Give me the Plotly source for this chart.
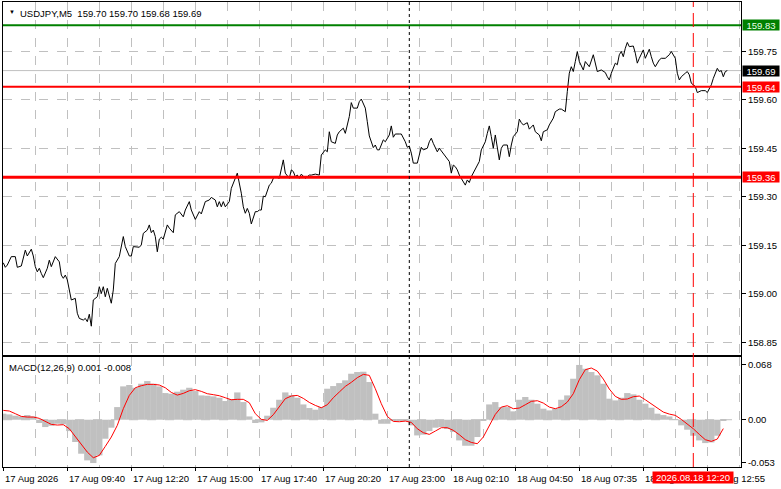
import plotly.graph_objects as go

# USDJPY M5 close prices, sampled by bar index (2 px per bar on the chart)
price_bar = [0, 1, 2, 4, 6, 7, 9, 11, 12, 14, 15, 16, 17, 18, 19, 20, 22, 23, 24, 26,
             28, 29, 30, 31, 32, 33, 34, 36, 37, 38, 40, 41, 42, 43, 44, 45, 47, 48, 49, 50,
             51, 52, 54, 55, 56, 58, 59, 60, 61, 63, 64, 65, 68, 69, 70, 72, 73, 74, 75, 76,
             77, 78, 79, 80, 82, 83, 85, 86, 88, 89, 90, 91, 93, 94, 96, 98, 99, 101, 103, 104,
             106, 107, 108, 109, 110, 111, 113, 114, 116, 117, 119, 120, 121, 122, 123, 124, 126, 127, 128, 129,
             130, 131, 133, 134, 135, 136, 138, 139, 140, 141, 143, 144, 145, 146, 147, 148, 149, 151, 152, 153,
             154, 156, 158, 159, 161, 162, 163, 164, 166, 167, 168, 170, 171, 173, 174, 175, 177, 178, 179, 181,
             182, 183, 185, 186, 187, 188, 190, 191, 193, 194, 195, 196, 198, 199, 201, 202, 203, 204, 205, 207,
             208, 209, 210, 212, 213, 214, 215, 217, 218, 220, 221, 223, 224, 225, 226, 227, 228, 230, 231, 232,
             233, 234, 236, 238, 239, 241, 242, 243, 244, 245, 246, 248, 249, 250, 252, 253, 254, 255, 257, 258,
             259, 260, 262, 263, 265, 266, 268, 269, 270, 272, 273, 275, 276, 278, 279, 281, 282, 283, 284, 285,
             286, 287, 288, 290, 291, 293, 295, 296, 297, 299, 301, 302, 303, 304, 306, 307, 308, 309, 310, 311,
             312, 313, 315, 316, 317, 318, 319, 320, 321, 323, 324, 325, 326, 328, 329, 331, 333, 334, 336, 337,
             338, 339, 341, 342, 343, 344, 346, 347, 349, 351, 352, 354, 355, 356, 357, 358, 359, 360, 361, 362]
price_close = [159.096, 159.082, 159.089, 159.115, 159.115, 159.082, 159.086, 159.135, 159.117, 159.138,
               159.117, 159.084, 159.068, 159.079, 159.063, 159.050, 159.079, 159.104, 159.084, 159.115,
               159.099, 159.058, 159.048, 159.058, 159.043, 159.006, 158.981, 158.986, 158.940, 158.924,
               158.919, 158.924, 158.914, 158.937, 158.900, 158.981, 158.991, 159.022, 159.001, 159.022,
               158.991, 159.017, 158.971, 159.012, 159.094, 159.115, 159.146, 159.177, 159.146, 159.117,
               159.117, 159.146, 159.144, 159.151, 159.187, 159.197, 159.213, 159.189, 159.197, 159.177,
               159.130, 159.169, 159.175, 159.169, 159.213, 159.203, 159.189, 159.244, 159.254, 159.247,
               159.238, 159.259, 159.285, 159.259, 159.230, 159.254, 159.247, 159.285, 159.290, 159.298,
               159.290, 159.269, 159.285, 159.269, 159.285, 159.269, 159.285, 159.326, 159.362, 159.373,
               159.311, 159.269, 159.249, 159.264, 159.249, 159.216, 159.254, 159.254, 159.259, 159.259,
               159.302, 159.300, 159.336, 159.342, 159.357, 159.362, 159.357, 159.383, 159.414, 159.373,
               159.357, 159.383, 159.378, 159.362, 159.367, 159.357, 159.370, 159.357, 159.362, 159.367,
               159.367, 159.370, 159.367, 159.429, 159.445, 159.439, 159.501, 159.470, 159.465, 159.491,
               159.501, 159.512, 159.496, 159.548, 159.591, 159.574, 159.574, 159.594, 159.602, 159.574,
               159.532, 159.488, 159.452, 159.460, 159.445, 159.445, 159.476, 159.470, 159.491, 159.519,
               159.484, 159.494, 159.494, 159.494, 159.470, 159.453, 159.457, 159.435, 159.404, 159.404,
               159.429, 159.453, 159.445, 159.450, 159.470, 159.481, 159.465, 159.439, 159.450, 159.432,
               159.424, 159.409, 159.373, 159.398, 159.393, 159.383, 159.367, 159.347, 159.336, 159.352,
               159.344, 159.362, 159.388, 159.409, 159.445, 159.470, 159.496, 159.519, 159.486, 159.450,
               159.491, 159.414, 159.450, 159.460, 159.460, 159.424, 159.460, 159.486, 159.501, 159.540,
               159.529, 159.522, 159.529, 159.509, 159.522, 159.501, 159.491, 159.473, 159.501, 159.507,
               159.522, 159.543, 159.563, 159.571, 159.571, 159.563, 159.625, 159.682, 159.702, 159.687,
               159.718, 159.749, 159.718, 159.692, 159.718, 159.702, 159.739, 159.713, 159.687, 159.692,
               159.684, 159.671, 159.661, 159.682, 159.713, 159.708, 159.739, 159.749, 159.733, 159.759,
               159.777, 159.764, 159.766, 159.744, 159.713, 159.728, 159.739, 159.754, 159.728, 159.756,
               159.733, 159.713, 159.702, 159.723, 159.728, 159.728, 159.739, 159.749, 159.728, 159.682,
               159.661, 159.671, 159.682, 159.687, 159.677, 159.651, 159.641, 159.622, 159.628, 159.628,
               159.622, 159.646, 159.666, 159.682, 159.697, 159.687, 159.690, 159.671, 159.687, 159.690]

# MACD(12,26,9), read every 3 bars
macd_bar = list(range(0, 361, 3))
macd_hist = [0.0075, 0.0066, 0.0050, 0.0041, 0.0058, 0.0041, -0.0041, -0.0091, -0.0075, -0.0050,
             -0.0058, -0.0141, -0.0277, -0.0422, -0.0505, -0.0538, -0.0443, -0.0236, -0.0099, 0.0157,
             0.0414, 0.0431, 0.0397, 0.0447, 0.0480, 0.0447, 0.0414, 0.0331, 0.0323, 0.0348,
             0.0373, 0.0397, 0.0356, 0.0302, 0.0298, 0.0290, 0.0273, 0.0232, 0.0257, 0.0339,
             0.0219, 0.0041, -0.0041, -0.0033, 0.0050, 0.0149, 0.0248, 0.0339, 0.0306, 0.0273,
             0.0190, 0.0145, 0.0124, 0.0157, 0.0385, 0.0418, 0.0455, 0.0489, 0.0571, 0.0592,
             0.0596, 0.0468, 0.0075, -0.0050, -0.0050, -0.0008, -0.0008, -0.0008, -0.0070, -0.0195,
             -0.0186, -0.0141, -0.0099, -0.0091, -0.0116, -0.0153, -0.0257, -0.0323, -0.0323, -0.0215,
             -0.0008, 0.0190, 0.0219, 0.0157, 0.0157, 0.0104, 0.0248, 0.0282, 0.0248, 0.0199,
             0.0137, 0.0116, 0.0137, 0.0248, 0.0302, 0.0509, 0.0680, 0.0633, 0.0592, 0.0551,
             0.0447, 0.0261, 0.0240, 0.0273, 0.0331, 0.0315, 0.0248, 0.0199, 0.0149, 0.0075,
             0.0058, 0.0041, 0.0008, -0.0070, -0.0124, -0.0199, -0.0257, -0.0290, -0.0282, -0.0199,
             -0.0008]
macd_signal = [0.0116, 0.0108, 0.0075, 0.0041, 0.0033, 0.0033, 0.0017, -0.0021, -0.0058, -0.0066,
               -0.0062, -0.0112, -0.0207, -0.0306, -0.0402, -0.0472, -0.0443, -0.0331, -0.0215, -0.0070,
               0.0137, 0.0302, 0.0397, 0.0422, 0.0439, 0.0439, 0.0431, 0.0397, 0.0339, 0.0306,
               0.0327, 0.0360, 0.0373, 0.0352, 0.0323, 0.0311, 0.0298, 0.0273, 0.0248, 0.0253,
               0.0253, 0.0211, 0.0075, 0.0004, -0.0008, 0.0062, 0.0157, 0.0261, 0.0294, 0.0302,
               0.0265, 0.0215, 0.0178, 0.0149, 0.0186, 0.0273, 0.0344, 0.0414, 0.0464, 0.0522,
               0.0563, 0.0551, 0.0385, 0.0199, 0.0041, -0.0021, -0.0025, -0.0017, -0.0033, -0.0112,
               -0.0161, -0.0182, -0.0141, -0.0099, -0.0099, -0.0132, -0.0186, -0.0248, -0.0282, -0.0298,
               -0.0215, -0.0070, 0.0066, 0.0157, 0.0174, 0.0137, 0.0145, 0.0186, 0.0228, 0.0236,
               0.0207, 0.0157, 0.0137, 0.0161, 0.0219, 0.0323, 0.0497, 0.0621, 0.0642, 0.0604,
               0.0505, 0.0381, 0.0290, 0.0253, 0.0257, 0.0286, 0.0294, 0.0248, 0.0199, 0.0141,
               0.0095, 0.0070, 0.0054, 0.0004, -0.0050, -0.0112, -0.0182, -0.0248, -0.0269, -0.0240,
               -0.0110]

# axis labels
time_bar = [0, 32, 64, 96, 128, 160, 192, 224, 256, 288, 320, 352]
time_text = ["17 Aug 2026", "17 Aug 09:40", "17 Aug 12:20", "17 Aug 15:00", "17 Aug 17:40",
             "17 Aug 20:20", "17 Aug 23:00", "18 Aug 02:10", "18 Aug 04:50", "18 Aug 07:35",
             "18 Aug 10:15", "18 Aug 12:55"]
price_ticks = [159.75, 159.60, 159.45, 159.30, 159.15, 159.00, 158.85]
macd_ticks = [0.068, 0.0, -0.053]
macd_tick_text = ["0.068", "0.00", "-0.053"]

# levels and markers
level_high = 159.83
level_mid = 159.64
level_low = 159.36
last_price = 159.69
session_bar = 203
cursor_bar = 345
cursor_text = "2026.08.18 12:20"

FONT = "Liberation Sans, Arial, sans-serif"
GRID = "#c0c0c0"

fig = go.Figure()
fig.add_trace(go.Scatter(x=price_bar, y=price_close, mode="lines",
                         line=dict(color="black", width=1), xaxis="x", yaxis="y"))
fig.add_trace(go.Bar(x=macd_bar, y=macd_hist, width=3.15,
                     marker=dict(color="#c0c0c0", line=dict(width=0)), xaxis="x2", yaxis="y2"))
fig.add_trace(go.Scatter(x=macd_bar, y=macd_signal, mode="lines",
                         line=dict(color="#ff0000", width=1), xaxis="x2", yaxis="y2"))

xgrid = dict(range=[-0.15, 368.85], tick0=0, dtick=32, showgrid=True, gridcolor=GRID,
             griddash="dash", gridwidth=1, zeroline=False, showticklabels=False,
             showline=True, mirror=True, linecolor="black", linewidth=1,
             minor=dict(tick0=0, dtick=16, showgrid=True, gridcolor=GRID, griddash="dash"))

fig.update_layout(
    width=781, height=489,
    margin=dict(l=3, r=40, t=2, b=22),
    paper_bgcolor="white", plot_bgcolor="white",
    showlegend=False,
    font=dict(family=FONT, size=10, color="black"),
    xaxis=dict(domain=[0, 1], anchor="y", **xgrid),
    xaxis2=dict(domain=[0, 1], anchor="y2", ticks="outside", ticklen=3, tickcolor="black", **xgrid),
    yaxis=dict(domain=[0.2409, 1], range=[158.811, 159.902], side="right",
               tickvals=price_ticks, ticktext=[f"{v:.2f}" for v in price_ticks],
               showgrid=True, gridcolor=GRID, griddash="dash", zeroline=False,
               ticks="outside", ticklen=4, tickcolor="black",
               tickfont=dict(size=9.5, color="black"),
               showline=True, mirror=True, linecolor="black", linewidth=1),
    yaxis2=dict(domain=[0, 0.2366], range=[-0.0587, 0.0779], side="right",
                tickvals=macd_ticks, ticktext=macd_tick_text,
                showgrid=False, zeroline=False,
                ticks="outside", ticklen=4, tickcolor="black",
                tickfont=dict(size=9.5, color="black"),
                showline=True, mirror=True, linecolor="black", linewidth=1),
)

shapes = [
    dict(type="line", xref="paper", x0=0, x1=1, yref="y2", y0=0, y1=0, layer="below",
         line=dict(color=GRID, width=1, dash="dash")),
    dict(type="line", xref="paper", x0=0, x1=1, yref="y", y0=last_price, y1=last_price, layer="below",
         line=dict(color="#c0c0c0", width=1)),
    dict(type="line", xref="paper", x0=0, x1=1, yref="y", y0=level_high, y1=level_high,
         line=dict(color="#008000", width=2)),
    dict(type="line", xref="paper", x0=0, x1=1, yref="y", y0=level_mid, y1=level_mid,
         line=dict(color="#ff0000", width=2)),
    dict(type="line", xref="paper", x0=0, x1=1, yref="y", y0=level_low, y1=level_low,
         line=dict(color="#ff0000", width=3)),
    dict(type="line", xref="x", x0=session_bar, x1=session_bar, yref="paper", y0=0, y1=1,
         line=dict(color="black", width=1, dash="dot")),
    dict(type="line", xref="x", x0=cursor_bar, x1=cursor_bar, yref="paper", y0=0, y1=1,
         line=dict(color="#ff0000", width=1, dash="14px,6px")),
]
fig.update_layout(shapes=shapes)

ann = []
# price tags on the right scale
for val, bg, fg in [(level_high, "#008000", "#e8ffe8"), (last_price, "black", "white"),
                    (level_mid, "#ff0000", "white"), (level_low, "#ff0000", "white")]:
    ann.append(dict(xref="paper", x=1, xshift=1, xanchor="left", yref="y", y=val, yanchor="middle",
                    text=f"{val:.2f}", showarrow=False, bgcolor=bg, width=36, height=10,
                    borderpad=0, align="center", font=dict(size=9.5, color=fg)))
# time labels
for b, t in zip(time_bar, time_text):
    ann.append(dict(xref="x2", x=b, xanchor="left", yref="paper", y=0, yanchor="top", yshift=-4,
                    text=t, showarrow=False, font=dict(size=9.5, color="black")))
ann.append(dict(xref="x2", x=cursor_bar, xanchor="center", yref="paper", y=0, yanchor="top", yshift=-4,
                text=cursor_text, showarrow=False, bgcolor="#ff0000", width=80, height=11,
                borderpad=0, font=dict(size=9.5, color="white")))
# window captions
ann.append(dict(xref="paper", x=0, xshift=4, xanchor="left", yref="paper", y=1, yshift=-5, yanchor="top",
                text="\u25bc", showarrow=False, font=dict(size=6, color="black")))
ann.append(dict(xref="paper", x=0, xshift=15, xanchor="left", yref="paper", y=1, yshift=-4, yanchor="top",
                text="USDJPY,M5\u00a0\u00a0159.70 159.70 159.68 159.69", showarrow=False,
                font=dict(size=9.5, color="black")))
ann.append(dict(xref="paper", x=0, xshift=4, xanchor="left", yref="paper", y=0.2366, yshift=-3, yanchor="top",
                text="MACD(12,26,9) 0.001 -0.008", showarrow=False,
                font=dict(size=9.5, color="black")))
fig.update_layout(annotations=ann)

# the page body has a default 8px margin; drop it so the chart sits at the window corner
fig.write_html("out.html", config={"displayModeBar": False},
               post_script="document.body.style.margin='0';")
